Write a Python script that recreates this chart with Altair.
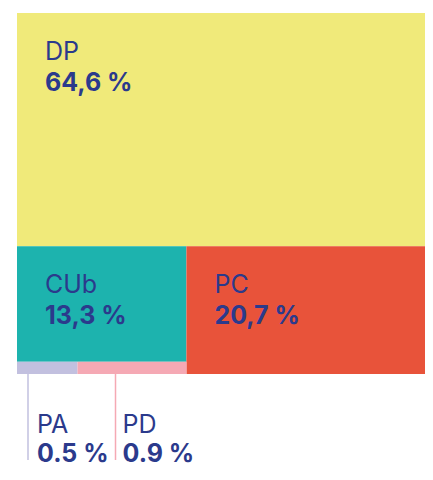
import altair as alt
import pandas as pd

# ---- data ----
parties = ["DP", "CUb", "PC", "PA", "PD"]
shares = [64.6, 13.3, 20.7, 0.5, 0.9]
share_labels = ["64,6 %", "13,3 %", "20,7 %", "0.5 %", "0.9 %"]
colors = ["#F0EA7A", "#1DB3AE", "#E8533A", "#C2C0DF", "#F5A9B4"]

# ---- slice-and-dice treemap layout computed from the shares ----
val = dict(zip(parties, shares))
total = sum(shares)
top_h = val["DP"] / total
rest = total - val["DP"]
grp = val["CUb"] + val["PA"] + val["PD"]
grp_w = grp / rest
cub_h = val["CUb"] / grp
small = val["PA"] + val["PD"]
pa_w = grp_w * val["PA"] / small
band = 1 - top_h
small_h = band * (1 - cub_h)

layout = {
    "DP": (0, 1, band, 1),
    "CUb": (0, grp_w, small_h, band),
    "PC": (grp_w, 1, 0, band),
    "PA": (0, pa_w, 0, small_h),
    "PD": (pa_w, grp_w, 0, small_h),
}

W = 408
H_TILES = 361
H_TOTAL = 459
y_low = -(H_TOTAL - H_TILES) / H_TILES

rows = []
for p, s, lab, c in zip(parties, shares, share_labels, colors):
    x0, x1, y0, y1 = layout[p]
    rows.append(dict(party=p, share=s, label=lab, color=c,
                     x0=x0, x1=x1, y0=y0, y1=y1))
df = pd.DataFrame(rows)

big = df[df.party.isin(["DP", "CUb", "PC"])].copy()
sm = df[df.party.isin(["PA", "PD"])].copy()
# leader lines and label offsets for the tiny tiles (pixels -> data units)
line_px = {"PA": 11, "PD": 38}
text_px = {"PA": 20, "PD": 45}
sm["lx"] = sm.x0 + sm.party.map(line_px) / W
sm["tx"] = sm.x0 + sm.party.map(text_px) / W
sm["ly2"] = -86 / H_TILES

xs = alt.Scale(domain=[0, 1], nice=False, zero=False)
ys = alt.Scale(domain=[y_low, 1], nice=False, zero=False)
cs = alt.Scale(domain=parties, range=colors)
FONT = "Inter"
TXT = "#2B3A8C"

rects = alt.Chart(df).mark_rect().encode(
    x=alt.X("x0:Q", scale=xs, axis=None),
    x2="x1:Q",
    y=alt.Y("y0:Q", scale=ys, axis=None),
    y2="y1:Q",
    color=alt.Color("party:N", scale=cs, legend=None),
)

names_big = alt.Chart(big).mark_text(
    align="left", baseline="alphabetic", dx=28, dy=47,
    font=FONT, fontSize=25, fontWeight="normal", color=TXT
).encode(x=alt.X("x0:Q", scale=xs), y=alt.Y("y1:Q", scale=ys), text="party:N")

vals_big = alt.Chart(big).mark_text(
    align="left", baseline="alphabetic", dx=28, dy=78,
    font=FONT, fontSize=25, fontWeight="bold", color=TXT
).encode(x=alt.X("x0:Q", scale=xs), y=alt.Y("y1:Q", scale=ys), text="label:N")

leaders = alt.Chart(sm).mark_rule(strokeWidth=1.5).encode(
    x=alt.X("lx:Q", scale=xs),
    y=alt.Y("y0:Q", scale=ys),
    y2="ly2:Q",
    color=alt.Color("party:N", scale=cs, legend=None),
)

names_sm = alt.Chart(sm).mark_text(
    align="left", baseline="alphabetic", dy=59,
    font=FONT, fontSize=25, fontWeight="normal", color=TXT
).encode(x=alt.X("tx:Q", scale=xs), y=alt.Y("y0:Q", scale=ys), text="party:N")

vals_sm = alt.Chart(sm).mark_text(
    align="left", baseline="alphabetic", dy=88,
    font=FONT, fontSize=25, fontWeight="bold", color=TXT
).encode(x=alt.X("tx:Q", scale=xs), y=alt.Y("y0:Q", scale=ys), text="label:N")

chart = alt.layer(rects, leaders, names_big, vals_big, names_sm, vals_sm).properties(
    width=W, height=H_TOTAL,
    padding={"left": 9, "top": 5, "right": 0, "bottom": 0},
    autosize=alt.AutoSizeParams(type="none"),
).configure_view(stroke=None)

chart.save("out.html", embed_options={"renderer": "svg", "actions": False})
